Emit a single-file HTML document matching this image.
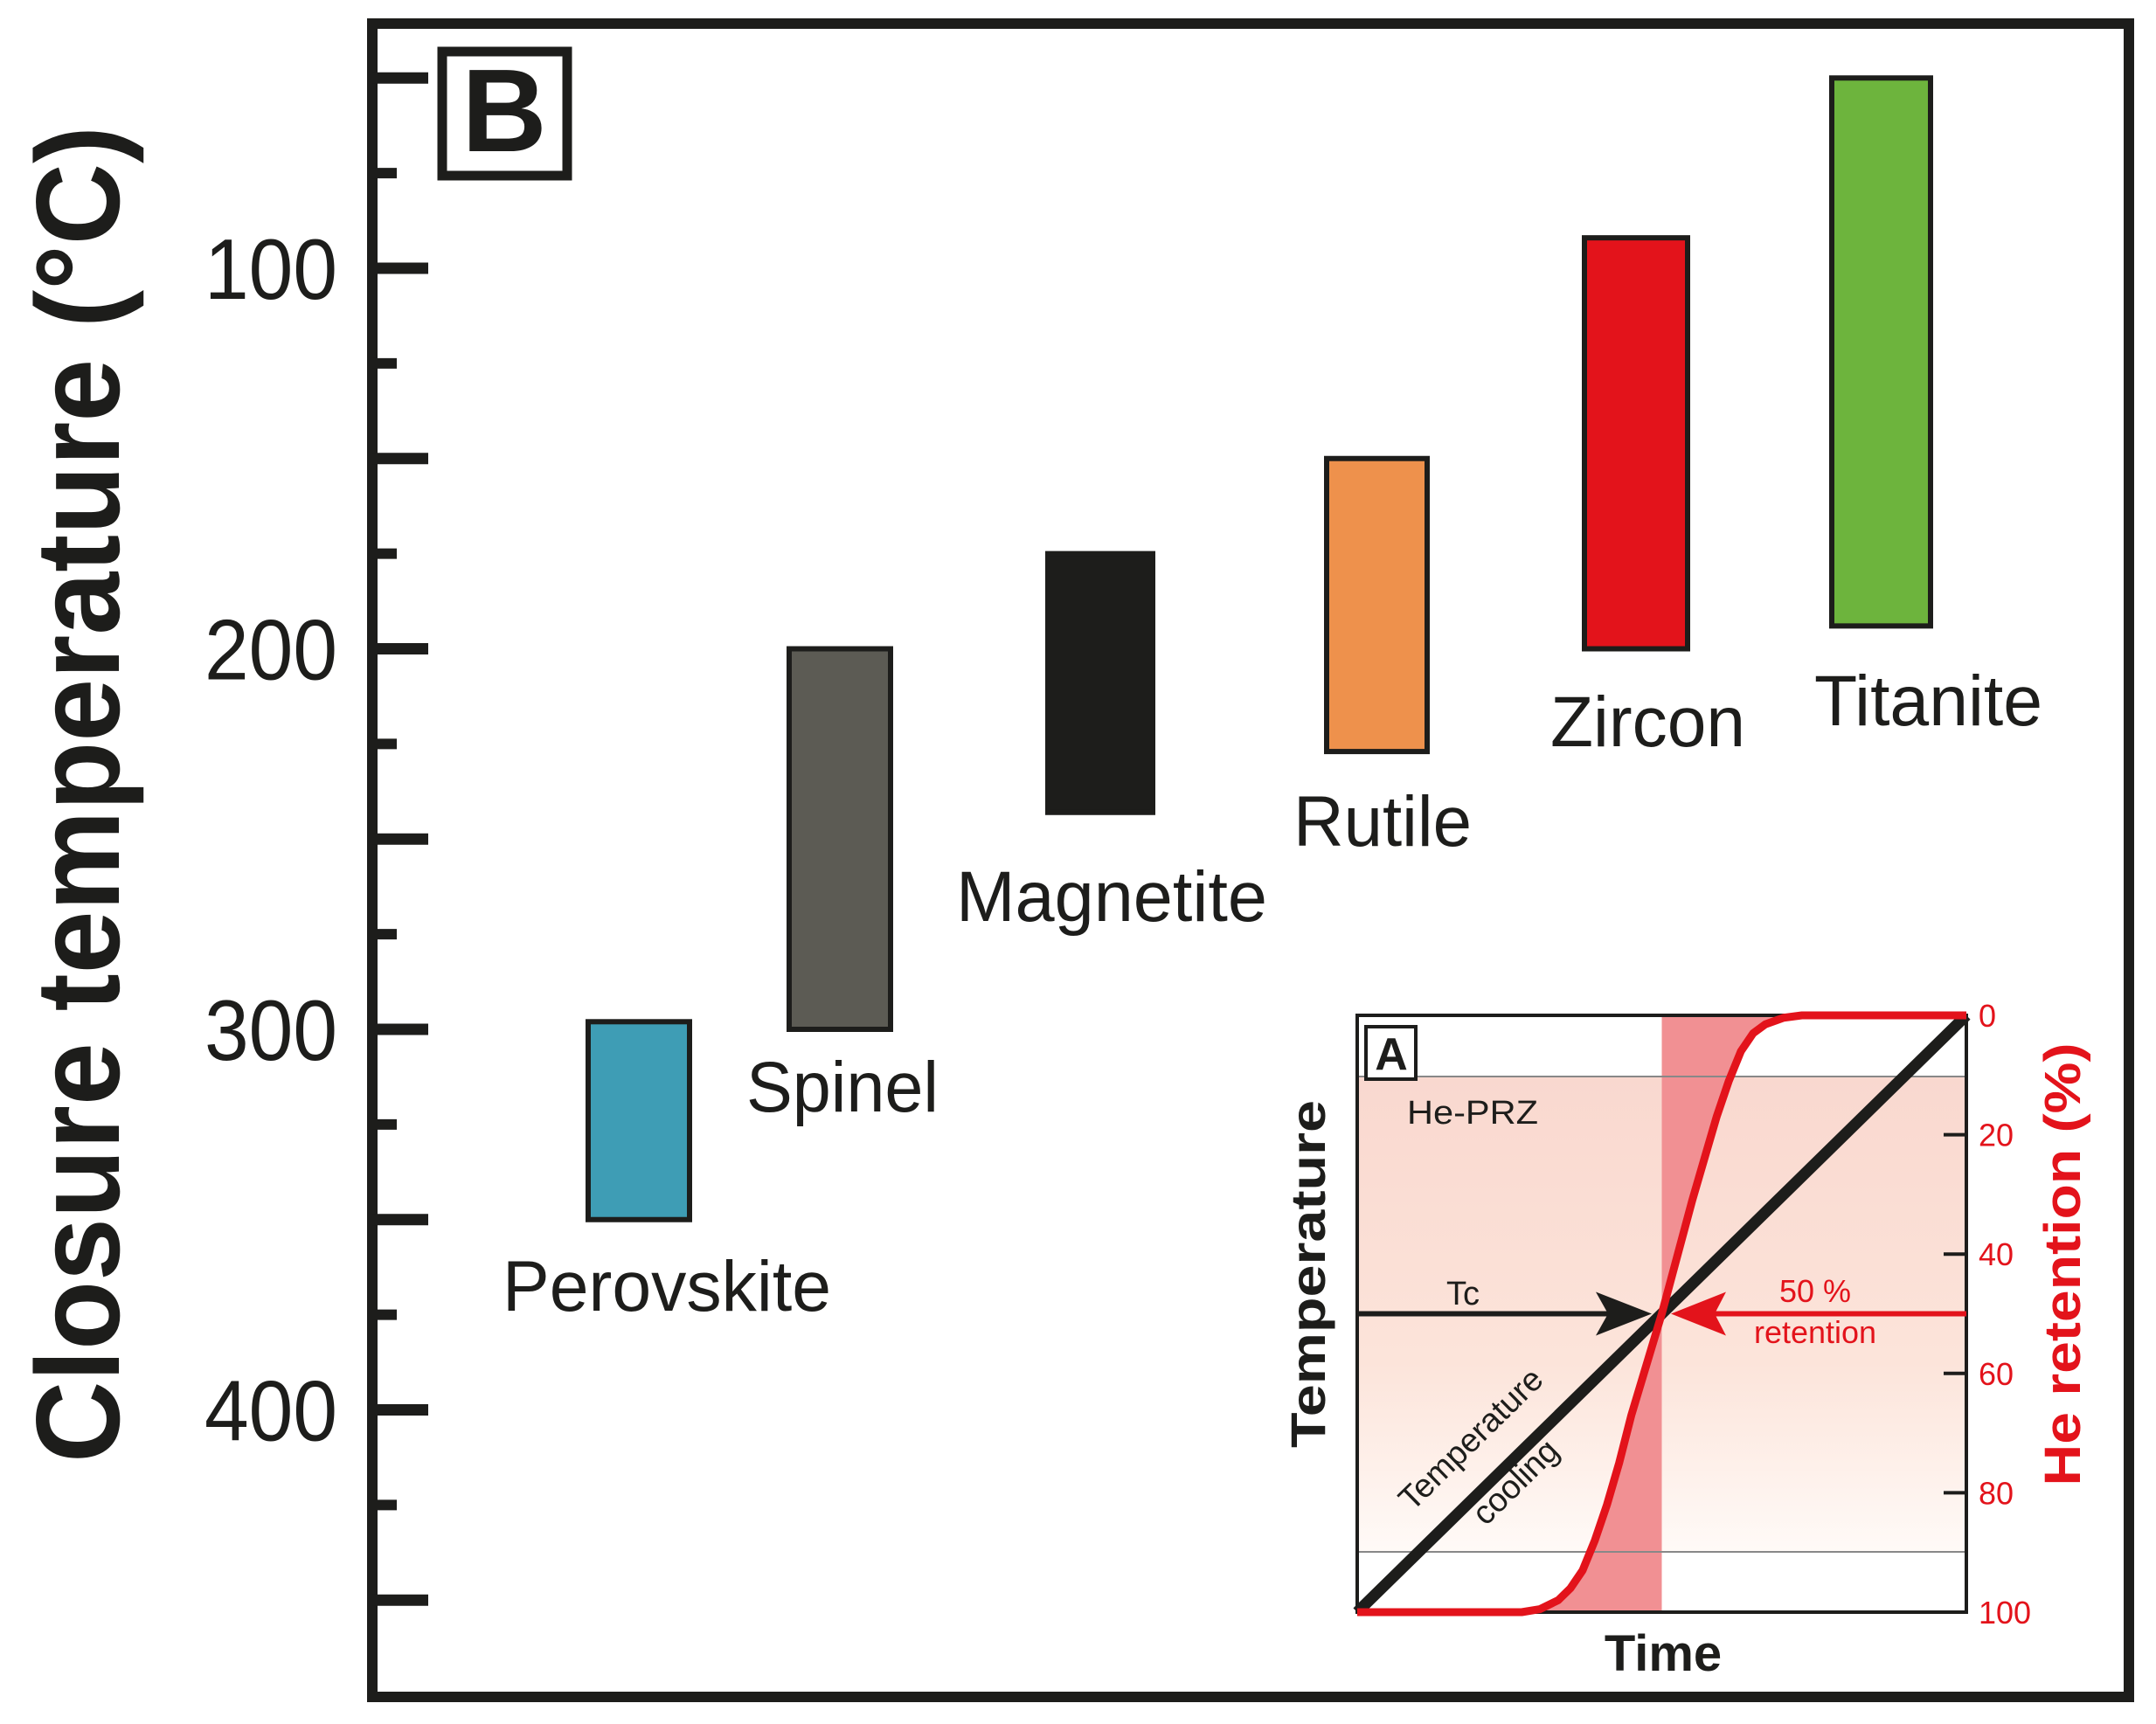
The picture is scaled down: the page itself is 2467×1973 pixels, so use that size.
<!DOCTYPE html>
<html><head><meta charset="utf-8"><style>
html,body{margin:0;padding:0;background:#fff}
svg{display:block}
text{font-family:"Liberation Sans",Arial,sans-serif}
</style></head><body>
<svg id="chart" width="2467" height="1973" viewBox="0 0 2467 1973" xmlns="http://www.w3.org/2000/svg">
<defs>
<linearGradient id="przGrad" x1="0" y1="0" x2="0" y2="1">
<stop offset="0" stop-color="#f9d8cf"/><stop offset="0.6" stop-color="#fce4da"/><stop offset="1" stop-color="#fffaf7"/>
</linearGradient>
</defs>
<rect x="426" y="27" width="2010" height="1915" fill="#fff" stroke="#1d1d1b" stroke-width="12"/>
<g id="yaxis"></g>
<text transform="translate(136,909) rotate(-90)" text-anchor="middle" font-weight="bold" font-size="136" fill="#1d1d1b" textLength="1530" lengthAdjust="spacingAndGlyphs">Closure temperature (°C)</text>
<rect x="506" y="59" width="143" height="142" fill="none" stroke="#1d1d1b" stroke-width="11"/>
<text x="577" y="173" text-anchor="middle" font-weight="bold" font-size="135" fill="#1d1d1b">B</text>
<g id="bars"></g>
<g id="inset"></g>
</svg>
<script>
const NS="http://www.w3.org/2000/svg";
// main chart data
const minerals=["Perovskite","Spinel","Magnetite","Rutile","Zircon","Titanite"];
const tempLow=[298,200,175,150,92,50];
const tempHigh=[350,300,243,227,200,194];
const barColors=["#3e9db5","#5c5b54","#1d1d1b","#ee914c","#e3131b","#6db43d"];
const majorTicks=[50,100,150,200,250,300,350,400,450];
const tickLabels=[100,200,300,400];
const minorTicks=[75,125,175,225,275,325,375,425];
// inset data
const retentionTicks=[0,20,40,60,80,100];
const curveTime=[0,0.27,0.30,0.33,0.35,0.37,0.39,0.41,0.43,0.45,0.5,0.55,0.57,0.59,0.61,0.63,0.65,0.67,0.70,0.73,1];
const curveRetention=[100,100,99.5,98,96,93,88,82,75,67,50,31,24,17,11,6,3,1.5,0.4,0,0];

const yT=v=>307+(v-100)*4.355;
function mk(tag,attrs,parent){const e=document.createElementNS(NS,tag);for(const k in attrs)e.setAttribute(k,attrs[k]);parent.appendChild(e);return e;}

const yaxis=document.getElementById('yaxis');
majorTicks.forEach(v=>{const l=mk('line',{x1:426,x2:490,y1:yT(v),y2:yT(v),stroke:'#1d1d1b','stroke-width':13},yaxis);

});
minorTicks.forEach(v=>{const l=mk('line',{x1:426,x2:454,y1:yT(v),y2:yT(v),stroke:'#1d1d1b','stroke-width':12},yaxis);

});
tickLabels.forEach(v=>{const t=mk('text',{x:386,y:yT(v)+35,'text-anchor':'end','font-size':98,fill:'#1d1d1b',textLength:152,lengthAdjust:'spacingAndGlyphs'},yaxis);t.textContent=v;

});

const barX=[673,903,1199,1518,1813,2096];
const barW=[116,116,120,115,118,113];
const labelX=[575,854,1094,1480,1774,2076];
const labelW=[376,220,356,204,223,261];
const labelY=[1500,1272,1054,968,854,830];
const bars=document.getElementById('bars');
minerals.forEach((m,i)=>{
 const r=mk('rect',{x:barX[i],y:yT(tempLow[i]),width:barW[i],height:yT(tempHigh[i])-yT(tempLow[i]),fill:barColors[i],stroke:'#1d1d1b','stroke-width':6},bars);
 
 
 const t=mk('text',{x:labelX[i],y:labelY[i],'font-size':82,fill:'#1d1d1b',textLength:labelW[i],lengthAdjust:'spacingAndGlyphs'},bars);
 t.textContent=m;
 
 
});

// inset
const inset=document.getElementById('inset');
const L=1553,R=2250,T=1162,B=1845;
const xI=f=>L+f*(R-L);
const yR=p=>T+p/100*(B-T);
let e;
e=mk('rect',{x:L,y:1232,width:R-L,height:1776-1232,fill:'url(#przGrad)'},inset);


let pts=[];
for(let i=0;i<curveTime.length;i++)pts.push(xI(curveTime[i])+','+yR(curveRetention[i]));
let bandPts=[xI(0.5)+','+B].concat(pts,[xI(0.5)+','+T]);
e=mk('polygon',{points:bandPts.join(' '),fill:'#f19093'},inset);


e=mk('line',{x1:L,x2:R,y1:1232,y2:1232,stroke:'#888','stroke-width':2},inset);


e=mk('line',{x1:L,x2:R,y1:1776,y2:1776,stroke:'#888','stroke-width':2},inset);


e=mk('rect',{x:L,y:T,width:R-L,height:B-T,fill:'none',stroke:'#1d1d1b','stroke-width':4},inset);


retentionTicks.forEach(p=>{
 const l=mk('line',{x1:R-26,x2:R,y1:yR(p),y2:yR(p),stroke:'#1d1d1b','stroke-width':4},inset);
 
 
 const t=mk('text',{x:R+14,y:yR(p)+13,'font-size':36,fill:'#e3131b'},inset);t.textContent=p;
 
 
});
e=mk('line',{x1:L,y1:B,x2:R,y2:T,stroke:'#1d1d1b','stroke-width':13},inset);


e=mk('polyline',{points:pts.join(' '),fill:'none',stroke:'#e3131b','stroke-width':9,'stroke-linejoin':'round'},inset);


const yc=yR(50);
e=mk('line',{x1:L,x2:1860,y1:yc,y2:yc,stroke:'#1d1d1b','stroke-width':6},inset);


e=mk('polygon',{points:`1890,${yc} 1826,${yc-25} 1840,${yc} 1826,${yc+25}`,fill:'#1d1d1b'},inset);


e=mk('line',{x1:1940,x2:R,y1:yc,y2:yc,stroke:'#e3131b','stroke-width':6},inset);


e=mk('polygon',{points:`1912,${yc} 1975,${yc-25} 1962,${yc} 1975,${yc+25}`,fill:'#e3131b'},inset);


e=mk('rect',{x:1563,y:1175,width:57,height:60,fill:'#fff',stroke:'#1d1d1b','stroke-width':4},inset);


function txt(s,a,name){const t=mk('text',a,inset);t.textContent=s;return t;}
txt('A',{x:1592,y:1224,'text-anchor':'middle','font-weight':'bold','font-size':52,fill:'#1d1d1b'},'panel-a-label');
txt('He-PRZ',{x:1610,y:1286,'font-size':38,fill:'#1d1d1b',textLength:150,lengthAdjust:'spacingAndGlyphs'},'he-prz-label');
txt('Tc',{x:1655,y:1493,'font-size':38,fill:'#1d1d1b'},'tc-label');
txt('50 %',{x:2077,y:1490,'text-anchor':'middle','font-size':36,fill:'#e3131b'},'fifty-percent-label');
txt('retention',{x:2077,y:1537,'text-anchor':'middle','font-size':36,fill:'#e3131b',textLength:140,lengthAdjust:'spacingAndGlyphs'},'retention-label');
txt('Temperature',{x:0,y:0,transform:'translate(1692,1656) rotate(-44.5)','text-anchor':'middle','font-size':38,fill:'#1d1d1b'},'temperature-cooling-label');
txt('cooling',{x:0,y:0,transform:'translate(1743,1705) rotate(-44.5)','text-anchor':'middle','font-size':38,fill:'#1d1d1b'},'cooling-label');
txt('Temperature',{transform:'translate(1516,1458) rotate(-90)','text-anchor':'middle','font-weight':'bold','font-size':56,fill:'#1d1d1b',textLength:398,lengthAdjust:'spacingAndGlyphs'},'inset-y-axis-title');
txt('He retention (%)',{transform:'translate(2380,1447) rotate(-90)','text-anchor':'middle','font-weight':'bold','font-size':58,fill:'#e3131b',textLength:507,lengthAdjust:'spacingAndGlyphs'},'inset-right-axis-title');
txt('Time',{x:1903,y:1912,'text-anchor':'middle','font-weight':'bold','font-size':58,fill:'#1d1d1b'},'inset-x-axis-title');
</script>
</body></html>
